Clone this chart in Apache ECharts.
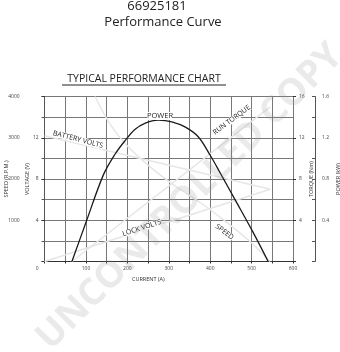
<!DOCTYPE html>
<html><head><meta charset="utf-8">
<script src="https://cdn.jsdelivr.net/npm/echarts@6/dist/echarts.min.js"></script>
<style>html,body{margin:0;padding:0;background:#fff}#c{width:340px;height:352px}</style>
</head><body><div id="c"></div>
<script>
// ---- data ----
const xTicks = [0,100,200,300,400,500,600];
const speedTicks = [1000,2000,3000,4000];
const voltTicks = [4,8,12];
const torqueTicks = [4,8,12,16];
const powerTicks = [0.4,0.8,1.2,1.6];

const powerCurrent = [66,100,142,170,194,218,242,275,307,339,371,400,424,460,504,540];
const powerKW      = [0,0.38,0.84,1.04,1.17,1.28,1.34,1.37,1.355,1.305,1.21,1.03,0.86,0.60,0.28,0];

const speedCurrent = [122,160,200,260,320,380,440,500,545];
const speedRPM     = [4000,3300,2800,2250,1800,1400,950,450,0];

const battCurrent = [0,545];
const battVolts   = [12.2,7.0];
const lockCurrent = [0,545];
const lockVolts   = [0,7.0];
const torqueCurrent = [66,545];
const torqueNm      = [0,15.0];

const pairs = (xs, ys) => xs.map((x,i)=>[x, ys[i]]);

const FONT = '"Open Sans", "Noto Sans", sans-serif';
const faint = '#e6e6e6';
const axisCol = '#444';

const chart = echarts.init(document.getElementById('c'), null, {renderer:'canvas'});
const smallLab = (extra) => Object.assign({fontSize:5, color:axisCol, fontFamily:FONT}, extra||{});

const option = {
  animation:false,
  textStyle:{fontFamily:FONT},
  grid:{left:44.6, right:47, top:96.5, bottom:90.5, containLabel:false, outerBoundsMode:'none'},
  xAxis:{
    type:'value', min:0, max:600, interval:50,
    axisLine:{lineStyle:{color:'#333',width:1}},
    axisTick:{show:true,length:2,lineStyle:{color:'#333'}},
    axisLabel:smallLab({margin:5, formatter:v=> v===0 ? '{z|0}' : (xTicks.includes(v) ? String(v) : ''),
      rich:{z:{fontSize:5,color:axisCol,padding:[0,15,0,0]}}}),
    splitLine:{show:true,lineStyle:{color:'#777',width:1}},
    name:'CURRENT (A)', nameLocation:'middle', nameGap:15, nameMoveOverlap:false,
    nameTextStyle:{fontSize:5.5,color:'#333',padding:[0,41,0,0]}
  },
  yAxis:[
    { // speed
      type:'value', position:'left', offset:21, min:0, max:4000, interval:1000,
      axisLine:{show:true,lineStyle:{color:'#555',width:1}},
      axisTick:{show:true,length:3,lineStyle:{color:'#555'}},
      minorTick:{show:true,splitNumber:2,length:3,lineStyle:{color:'#555'}},
      axisLabel:smallLab({margin:4, formatter:v=> speedTicks.includes(v)? String(v):''}),
      splitLine:{show:false},
      name:'SPEED (R.P.M.)', nameLocation:'middle', nameGap:14, nameRotate:90, nameMoveOverlap:false,
      nameTextStyle:{fontSize:5.5,color:'#333'}
    },
    { // voltage
      type:'value', position:'left', offset:0, min:0, max:16, interval:4,
      axisLine:{show:false},
      axisTick:{show:true,length:3,lineStyle:{color:'#333'}},
      axisLabel:smallLab({margin:6, formatter:v=> voltTicks.includes(v)? String(v):''}),
      splitLine:{show:false},
      name:'VOLTAGE (V)', nameLocation:'middle', nameGap:14, nameRotate:90, nameMoveOverlap:false,
      nameTextStyle:{fontSize:5.5,color:'#333'}
    },
    { // torque
      type:'value', position:'right', offset:0, min:0, max:16, interval:4,
      axisLine:{show:false},
      axisTick:{show:true,length:3,lineStyle:{color:'#333'}},
      axisLabel:smallLab({margin:6, formatter:v=> torqueTicks.includes(v)? String(v):''}),
      splitLine:{show:false},
      name:'TORQUE (Nm)', nameLocation:'middle', nameGap:15, nameRotate:90, nameMoveOverlap:false,
      nameTextStyle:{fontSize:5.5,color:'#333'}
    },
    { // power
      type:'value', position:'right', offset:22, min:0, max:1.6, interval:0.4,
      axisLine:{show:true,lineStyle:{color:'#555',width:1}},
      axisTick:{show:true,inside:true,length:3,lineStyle:{color:'#555'}},
      minorTick:{show:true,splitNumber:2,length:3,lineStyle:{color:'#555'}},
      axisLabel:smallLab({margin:7, formatter:v=> powerTicks.some(t=>Math.abs(t-v)<1e-6)? v.toFixed(1):''}),
      splitLine:{show:false},
      name:'POWER (kW)', nameLocation:'middle', nameGap:20, nameRotate:90, nameMoveOverlap:false,
      nameTextStyle:{fontSize:5.5,color:'#333'}
    },
    { // grid lines
      type:'value', position:'left', min:0, max:16, interval:2,
      axisLine:{show:false}, axisTick:{show:false}, axisLabel:{show:false},
      splitLine:{show:true,lineStyle:{color:'#777',width:1}}
    }
  ],
  series:[
    {type:'line', yAxisIndex:1, data:pairs(battCurrent,battVolts), symbol:'none', lineStyle:{color:faint,width:1.5}, z:1},
    {type:'line', yAxisIndex:1, data:pairs(lockCurrent,lockVolts), symbol:'none', lineStyle:{color:faint,width:1.5}, z:1},
    {type:'line', yAxisIndex:0, data:pairs(speedCurrent,speedRPM), symbol:'none', smooth:0.4, lineStyle:{color:faint,width:1.5}, z:1},
    {type:'line', yAxisIndex:2, data:pairs(torqueCurrent,torqueNm), symbol:'none', lineStyle:{color:faint,width:1.5}, z:1},
    {type:'line', yAxisIndex:3, data:pairs(powerCurrent,powerKW), symbol:'none', smooth:0.35, lineStyle:{color:'#1a1a1a',width:1.3}, z:5}
  ],
  graphic:[
    {type:'text', x:157, y:6, style:{text:'66925181', font:'13px '+FONT, fill:'#222', align:'center', verticalAlign:'middle'}},
    {type:'text', x:163, y:22, style:{text:'Performance Curve', font:'13px '+FONT, fill:'#222', align:'center', verticalAlign:'middle'}},
    {type:'text', x:144, y:79.5, style:{text:'TYPICAL PERFORMANCE CHART', font:'10.5px '+FONT, fill:'#222', align:'center', verticalAlign:'middle'}},
    {type:'line', shape:{x1:62, y1:85, x2:226, y2:85}, style:{stroke:'#222', lineWidth:1}},
    {type:'text', x:160, y:116, z:10, style:{text:'POWER', font:'7.5px '+FONT, fill:'#222', align:'center', verticalAlign:'middle', backgroundColor:'#fff'}},
    {type:'text', x:78, y:139.5, rotation:-0.257, z:10, style:{text:'BATTERY VOLTS', font:'7px '+FONT, fill:'#222', align:'center', verticalAlign:'middle', backgroundColor:'#fff'}},
    {type:'text', x:231.7, y:120, rotation:0.64, z:10, style:{text:'RUN TORQUE', font:'7px '+FONT, fill:'#222', align:'center', verticalAlign:'middle', backgroundColor:'#fff'}},
    {type:'text', x:142, y:228, rotation:0.314, z:10, style:{text:'LOCK VOLTS', font:'7px '+FONT, fill:'#222', align:'center', verticalAlign:'middle', backgroundColor:'#fff'}},
    {type:'text', x:224.5, y:232, rotation:-0.646, z:10, style:{text:'SPEED', font:'7px '+FONT, fill:'#222', align:'center', verticalAlign:'middle', backgroundColor:'#fff'}},
    {type:'text', x:190, y:197, rotation:Math.PI/4, z:100, style:{text:'UNCONTROLLED COPY', font:'bold 37px '+FONT, fill:'rgba(150,150,150,0.2)', align:'center', verticalAlign:'middle'}}
  ]
};
chart.setOption(option);
</script>
</body></html>
